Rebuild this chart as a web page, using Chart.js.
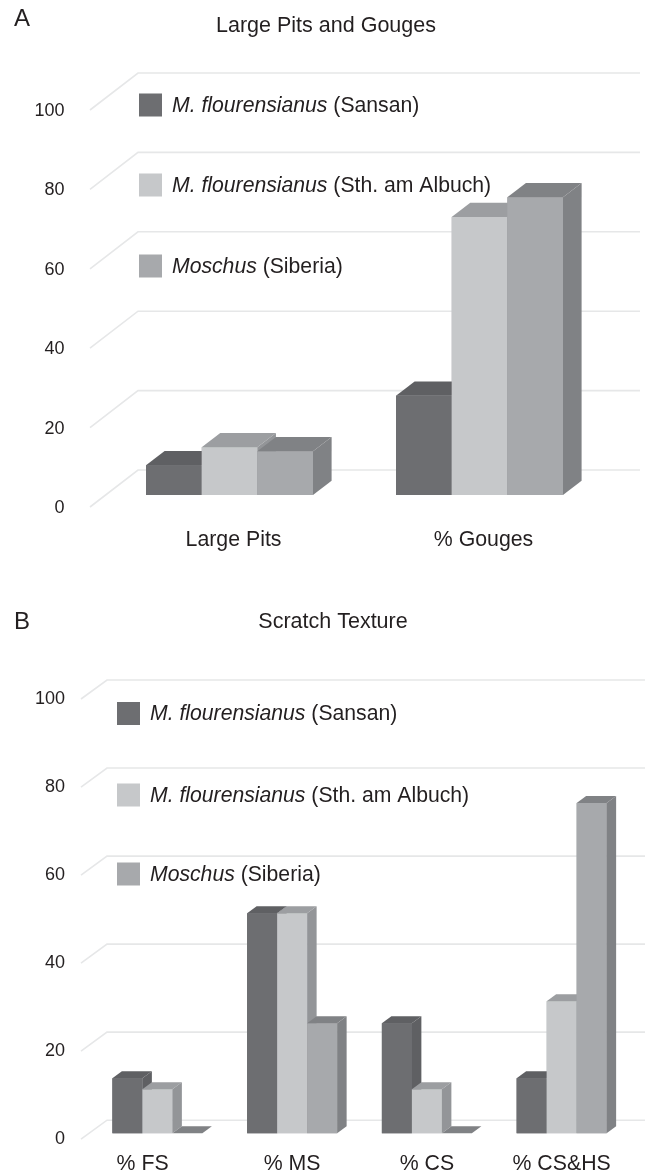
<!DOCTYPE html>
<html>
<head>
<meta charset="utf-8">
<style>
body { margin:0; background:#fff; }
canvas { position:absolute; left:0; }
</style>
<script src="https://cdn.jsdelivr.net/npm/chart.js@4"></script>
</head>
<body>
<canvas id="chartA" width="646" height="575" style="top:0"></canvas>
<canvas id="chartB" width="646" height="585" style="top:590px"></canvas>
<script>
// data
const speciesItalic = ['M. flourensianus', 'M. flourensianus', 'Moschus'];
const speciesPlace = [' (Sansan)', ' (Sth. am Albuch)', ' (Siberia)'];
const yTicks = [0, 20, 40, 60, 80, 100];

const catsA = ['Large Pits', '% Gouges'];
const sansanA = [7.5, 25];
const albuchA = [12, 70];
const siberiaA = [11, 75];

const catsB = ['% FS', '% MS', '% CS', '% CS&HS'];
const sansanB = [12.5, 50, 25, 12.5];
const albuchB = [10, 50, 10, 30];
const siberiaB = [0, 25, 0, 75];

const frontColors = ['#6d6e71', '#c6c8ca', '#a7a9ac'];
const topColors = ['#5f6063', '#9c9ea1', '#808285'];
const sideColors = ['#5f6063', '#939598', '#808285'];
const gridColor = '#e6e7e8';
const textColor = '#231f20';
const fontName = '"Liberation Sans", Arial, sans-serif';

function poly(ctx, pts, color) {
    ctx.fillStyle = color;
    ctx.beginPath();
    ctx.moveTo(pts[0][0], pts[0][1]);
    for (let i = 1; i < pts.length; i++) ctx.lineTo(pts[i][0], pts[i][1]);
    ctx.closePath();
    ctx.fill();
}

// slanted floor/wall lines, one for every tick of the visible axis
const wallGrid = {
    id: 'wallGrid',
    beforeDatasetsDraw(chart, args, o) {
        const ctx = chart.ctx, y = chart.scales.y;
        ctx.save();
        ctx.strokeStyle = gridColor;
        ctx.lineWidth = 1.6;
        y.ticks.forEach(t => {
            const p = y.getPixelForValue(t.value);
            ctx.beginPath();
            ctx.moveTo(o.frontX, p);
            ctx.lineTo(o.frontX + o.wallDx, p - o.wallDy);
            ctx.lineTo(o.rightX, p - o.wallDy);
            ctx.stroke();
        });
        ctx.restore();
    }
};

// repaint the bars left to right, each with its top and side face
const barDepth = {
    id: 'barDepth',
    afterDatasetsDraw(chart, args, o) {
        const ctx = chart.ctx;
        chart.data.datasets.forEach((ds, k) => {
            chart.getDatasetMeta(k).data.forEach(el => {
                el.draw(ctx);
                const l = el.x - el.width / 2, r = el.x + el.width / 2;
                poly(ctx, [[l, el.y], [r, el.y], [r + o.dx, el.y - o.dy], [l + o.dx, el.y - o.dy]], topColors[k]);
                if (el.base > el.y) {
                    poly(ctx, [[r, el.y], [r + o.dx, el.y - o.dy], [r + o.dx, el.base - o.dy], [r, el.base]], sideColors[k]);
                }
            });
        });
    }
};

// legend inside the plot, italic name + plain place, and the panel letter
const notes = {
    id: 'notes',
    afterDraw(chart, args, o) {
        const ctx = chart.ctx;
        ctx.save();
        ctx.textBaseline = 'middle';
        ctx.textAlign = 'left';
        ctx.fillStyle = textColor;
        ctx.font = '24px ' + fontName;
        ctx.fillText(o.letter, o.letterX, o.letterY);
        speciesItalic.forEach((name, i) => {
            const cy = o.rows[i];
            ctx.fillStyle = frontColors[i];
            ctx.fillRect(o.boxX, cy - 11.5, 23, 23);
            ctx.fillStyle = textColor;
            ctx.font = 'italic ' + o.fontSize + 'px ' + fontName;
            ctx.fillText(name, o.boxX + 33, cy + 1);
            const w = ctx.measureText(name).width;
            ctx.font = o.fontSize + 'px ' + fontName;
            ctx.fillText(speciesPlace[i], o.boxX + 33 + w, cy + 1);
        });
        ctx.restore();
    }
};

function makeChart(id, title, cats, s1, s2, s3, g) {
    const series = [s1, s2, s3];
    const canvas = document.getElementById(id);
    return new Chart(canvas, {
        type: 'bar',
        data: {
            labels: cats,
            datasets: series.map((vals, i) => ({
                label: speciesItalic[i] + speciesPlace[i],
                data: vals,
                yAxisID: 'yBars',
                backgroundColor: frontColors[i],
                borderWidth: 0,
                barPercentage: 1,
                categoryPercentage: g.catPct
            }))
        },
        options: {
            responsive: false,
            animation: false,
            layout: { padding: { left: g.padL } },
            scales: {
                x: {
                    grid: { display: false, drawTicks: false },
                    border: { display: false },
                    ticks: {
                        color: textColor, padding: g.xPad, labelOffset: g.xShift, maxRotation: 0, autoSkip: false,
                        font: { family: fontName, size: 21.3 },
                        callback(v, i) { return cats[i] + (g.labelTail[i] || ''); }
                    },
                    afterFit(s) { s.height = canvas.height - g.bottom; }
                },
                y: {
                    min: 0, max: 100,
                    afterBuildTicks(s) { s.ticks = yTicks.map(v => ({ value: v })); },
                    grid: { display: false, drawTicks: false },
                    border: { display: false },
                    ticks: { color: textColor, padding: g.yPad, labelOffset: g.yShift, font: { family: fontName, size: 18 } },
                    afterFit(s) { s.width = g.left - g.padL; }
                },
                // empty axis on the right, only holds the plot away from the edge
                ySpace: {
                    position: 'right',
                    grid: { display: false, drawTicks: false },
                    border: { display: false },
                    ticks: { display: false },
                    afterFit(s) { s.width = g.rightGap; }
                },
                // same height as y, moved so zero sits further back on the floor
                yBars: { display: false, min: -g.floorShift, max: 100 - g.floorShift }
            },
            plugins: {
                legend: { display: false },
                tooltip: { enabled: false },
                title: {
                    display: true, text: title, color: textColor,
                    font: { family: fontName, size: g.titleSize, weight: 'normal', lineHeight: 1.2 },
                    padding: { top: g.titleTop, bottom: g.top - g.titleTop - g.titleSize * 1.2 }
                },
                wallGrid: { frontX: g.frontX, wallDx: g.wallDx, wallDy: g.wallDy, rightX: g.rightX },
                barDepth: { dx: g.dx, dy: g.dy },
                notes: { letter: g.letter, letterX: 14, letterY: g.letterY, boxX: g.boxX, rows: g.rows, fontSize: 21.2 }
            }
        },
        plugins: [wallGrid, barDepth, notes]
    });
}

makeChart('chartA', 'Large Pits and Gouges', catsA, sansanA, albuchA, siberiaA, {
    catPct: 0.668, left: 104.5, padL: 6, rightGap: 41.5, top: 110, bottom: 507, titleSize: 21.5, titleTop: 13, xPad: 20, yPad: 40, xShift: 4, yShift: 1,
    labelTail: [], floorShift: 3.02, frontX: 90, wallDx: 48, wallDy: 37, rightX: 640, dx: 18.6, dy: 14.3,
    letter: 'A', letterY: 19, boxX: 139, rows: [105, 185, 266]
});
makeChart('chartB', 'Scratch Texture', catsB, sansanB, albuchB, siberiaB, {
    catPct: 0.668, left: 90, padL: 20, rightGap: 17, top: 109, bottom: 554, titleSize: 21.5, titleTop: 19, xPad: 12, yPad: 25, xShift: 0, yShift: 0,
    labelTail: ['\u00a0\u00a0\u00a0\u00a0\u00a0'], floorShift: 1.35, frontX: 81, wallDx: 26, wallDy: 19, rightX: 645, dx: 9.5, dy: 7,
    letter: 'B', letterY: 32, boxX: 117, rows: [123.5, 205, 284]
});
</script>
</body>
</html>
